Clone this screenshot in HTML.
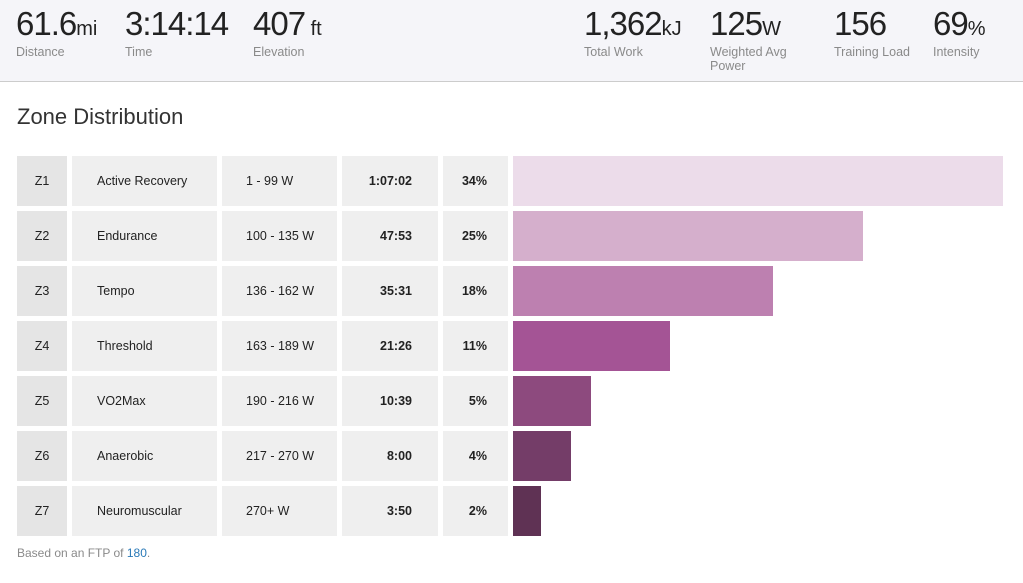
<!DOCTYPE html><html><head><style>
body{margin:0;width:1023px;height:583px;background:#fff;font-family:"Liberation Sans",sans-serif;position:relative;overflow:hidden;color:#222}
.hdr{position:absolute;left:0;top:0;width:1023px;height:81px;background:#f5f5f9;border-bottom:1px solid #ccc}
.st{position:absolute;top:5px}
.v{font-size:33px;color:#222;letter-spacing:-1px;line-height:38px;height:38px;white-space:nowrap}
.u{font-size:20px;letter-spacing:0;line-height:1}
.l{font-size:12.5px;color:#8a8a8a;line-height:14px;margin-top:2px}
h2{position:absolute;left:17px;top:104px;margin:0;font-weight:normal;font-size:22px;color:#333}
.c{position:absolute;height:50px;line-height:50px;font-size:12.5px;background:#efefef}
.z{background:#e5e5e5;text-align:center}
.b{font-weight:bold;text-align:right}
.f{position:absolute;left:17px;top:546px;font-size:12px;color:#8a8a8a}
</style></head><body>
<div class="hdr">
<div class="st" style="left:16px"><div class="v">61.6<span class="u">mi</span></div><div class="l">Distance</div></div>
<div class="st" style="left:125px"><div class="v">3:14:14</div><div class="l">Time</div></div>
<div class="st" style="left:253px"><div class="v">407<span class="u"> ft</span></div><div class="l">Elevation</div></div>
<div class="st" style="left:584px"><div class="v">1,362<span class="u">kJ</span></div><div class="l">Total Work</div></div>
<div class="st" style="left:710px"><div class="v">125<span class="u">W</span></div><div class="l">Weighted Avg<br>Power</div></div>
<div class="st" style="left:834px"><div class="v">156</div><div class="l">Training Load</div></div>
<div class="st" style="left:933px"><div class="v">69<span class="u">%</span></div><div class="l">Intensity</div></div>
</div>
<h2>Zone Distribution</h2>
<div id="rows"></div>
<div class="f">Based on an FTP of <span style="color:#2a7ab8">180</span>.</div>
<script>
var d=[["Z1","Active Recovery","1 - 99 W","1:07:02","34%",490,"#ecdcea"],["Z2","Endurance","100 - 135 W","47:53","25%",350,"#d5afcc"],["Z3","Tempo","136 - 162 W","35:31","18%",260,"#bd80b0"],["Z4","Threshold","163 - 189 W","21:26","11%",157,"#a45495"],["Z5","VO2Max","190 - 216 W","10:39","5%",78,"#8d4a7e"],["Z6","Anaerobic","217 - 270 W","8:00","4%",58,"#743d68"],["Z7","Neuromuscular","270+ W","3:50","2%",28,"#5f3254"]];
var h="";d.forEach(function(r,i){var y=156+55*i;
h+='<div class="c z" style="left:17px;top:'+y+'px;width:50px">'+r[0]+'</div>';
h+='<div class="c" style="left:72px;top:'+y+'px;width:120px;padding-left:25px">'+r[1]+'</div>';
h+='<div class="c" style="left:222px;top:'+y+'px;width:91px;padding-left:24px">'+r[2]+'</div>';
h+='<div class="c b" style="left:342px;top:'+y+'px;width:70px;padding-right:26px">'+r[3]+'</div>';
h+='<div class="c b" style="left:443px;top:'+y+'px;width:44px;padding-right:21px">'+r[4]+'</div>';
h+='<div class="c" style="left:513px;top:'+y+'px;width:'+r[5]+'px;background:'+r[6]+'"></div>';});
document.getElementById("rows").innerHTML=h;
</script>
</body></html>
